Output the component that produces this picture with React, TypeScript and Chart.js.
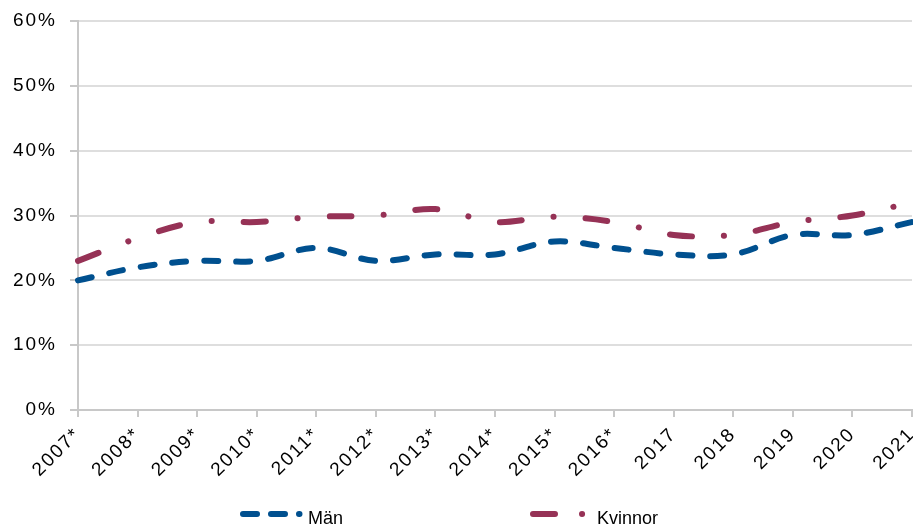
import React, { useEffect, useRef } from "react";
import { Chart, registerables } from "chart.js";

Chart.register(...registerables);

const categories = ["2007*", "2008*", "2009*", "2010*", "2011*", "2012*", "2013*", "2014*", "2015*", "2016*", "2017", "2018", "2019", "2020", "2021"];
const manValues = [20, 22, 23, 23, 25, 23, 24, 24, 26, 25, 24, 24, 27, 27, 29];
const kvinnorValues = [23, 26.5, 29, 29, 29.8, 30, 31, 29, 29.8, 29, 27, 27, 29, 30, 32];
const yTicks = [0, 10, 20, 30, 40, 50, 60];

const BLUE = "#00508f";
const RED = "#963256";
const FONT = "'Liberation Sans', Arial, Helvetica, sans-serif";

const spacingPlugin = {
  id: "letterSpacing",
  beforeUpdate(chart: any) {
    chart.ctx.letterSpacing = "2px";
  },
  beforeDraw(chart: any) {
    chart.ctx.letterSpacing = "2px";
  },
};

const legendPlugin = {
  id: "customLegend",
  afterDraw(chart: any) {
    const ctx = chart.ctx;
    const items = [
      { label: "Män", color: BLUE, x0: 243, x1: 299.5, dash: [14, 14], tx: 308 },
      { label: "Kvinnor", color: RED, x0: 533, x1: 582.1, dash: [22, 27], tx: 597 },
    ];
    const y = 514;
    ctx.save();
    ctx.letterSpacing = "0px";
    for (const it of items) {
      ctx.beginPath();
      ctx.strokeStyle = it.color;
      ctx.lineWidth = 6;
      ctx.lineCap = "round";
      ctx.setLineDash(it.dash);
      ctx.moveTo(it.x0, y);
      ctx.lineTo(it.x1, y);
      ctx.stroke();
      ctx.setLineDash([]);
      ctx.fillStyle = "#000";
      ctx.font = `18px ${FONT}`;
      ctx.textBaseline = "alphabetic";
      ctx.textAlign = "left";
      ctx.fillText(it.label, it.tx, 524);
    }
    ctx.restore();
  },
};

export default function App() {
  const ref = useRef<HTMLCanvasElement | null>(null);
  useEffect(() => {
    document.body.style.margin = "0";
    const canvas = ref.current;
    if (!canvas) return;
    const chart = new Chart(canvas, {
      type: "line",
      data: {
        labels: categories,
        datasets: [
          {
            label: "Män",
            data: manValues,
            borderColor: BLUE,
            backgroundColor: BLUE,
            borderWidth: 6,
            borderDash: [14, 18],
            borderCapStyle: "round",
            borderJoinStyle: "round",
            pointRadius: 0,
            tension: 0.35,
            fill: false,
          },
          {
            label: "Kvinnor",
            data: kvinnorValues,
            borderColor: RED,
            backgroundColor: RED,
            borderWidth: 6,
            borderDash: [22, 32, 0.1, 32],
            borderCapStyle: "round",
            borderJoinStyle: "round",
            pointRadius: 0,
            tension: 0.35,
            fill: false,
          },
        ],
      },
      options: {
        animation: false,
        responsive: false,
        maintainAspectRatio: false,
        layout: { padding: { top: 21, right: 1, left: 0, bottom: 0 } },
        plugins: {
          legend: { display: false },
          tooltip: { enabled: false },
        },
        scales: {
          x: {
            offset: false,
            grid: {
              drawOnChartArea: false,
              drawTicks: true,
              tickLength: 7,
              tickColor: "#c8c8c8",
              lineWidth: 2,
            },
            border: { color: "#c8c8c8", width: 2 },
            ticks: {
              autoSkip: false,
              maxRotation: 45,
              minRotation: 45,
              padding: 6,
              color: "#000",
              font: { family: FONT, size: 19 },
            },
            afterFit: (s: any) => {
              s.height = 116;
              s.paddingLeft = 0;
              s.paddingRight = 0;
            },
          },
          y: {
            min: 0,
            max: 60,
            afterBuildTicks: (s: any) => {
              s.ticks = yTicks.map((v) => ({ value: v }));
            },
            grid: {
              color: "#dedede",
              lineWidth: 2,
              tickLength: 8,
              tickColor: "#c8c8c8",
            },
            border: { color: "#c8c8c8", width: 2 },
            ticks: {
              padding: 13,
              color: "#000",
              font: { family: FONT, size: 19 },
              callback: (v: any) => v + "%",
            },
            afterFit: (s: any) => {
              s.width = 78;
              s.paddingTop = 0;
              s.paddingBottom = 0;
            },
          },
        },
      },
      plugins: [spacingPlugin, legendPlugin],
    });
    return () => chart.destroy();
  }, []);
  return (
    <div style={{ width: 913, height: 526, background: "#fff" }}>
      <canvas ref={ref} width={913} height={526} style={{ display: "block" }} />
    </div>
  );
}
